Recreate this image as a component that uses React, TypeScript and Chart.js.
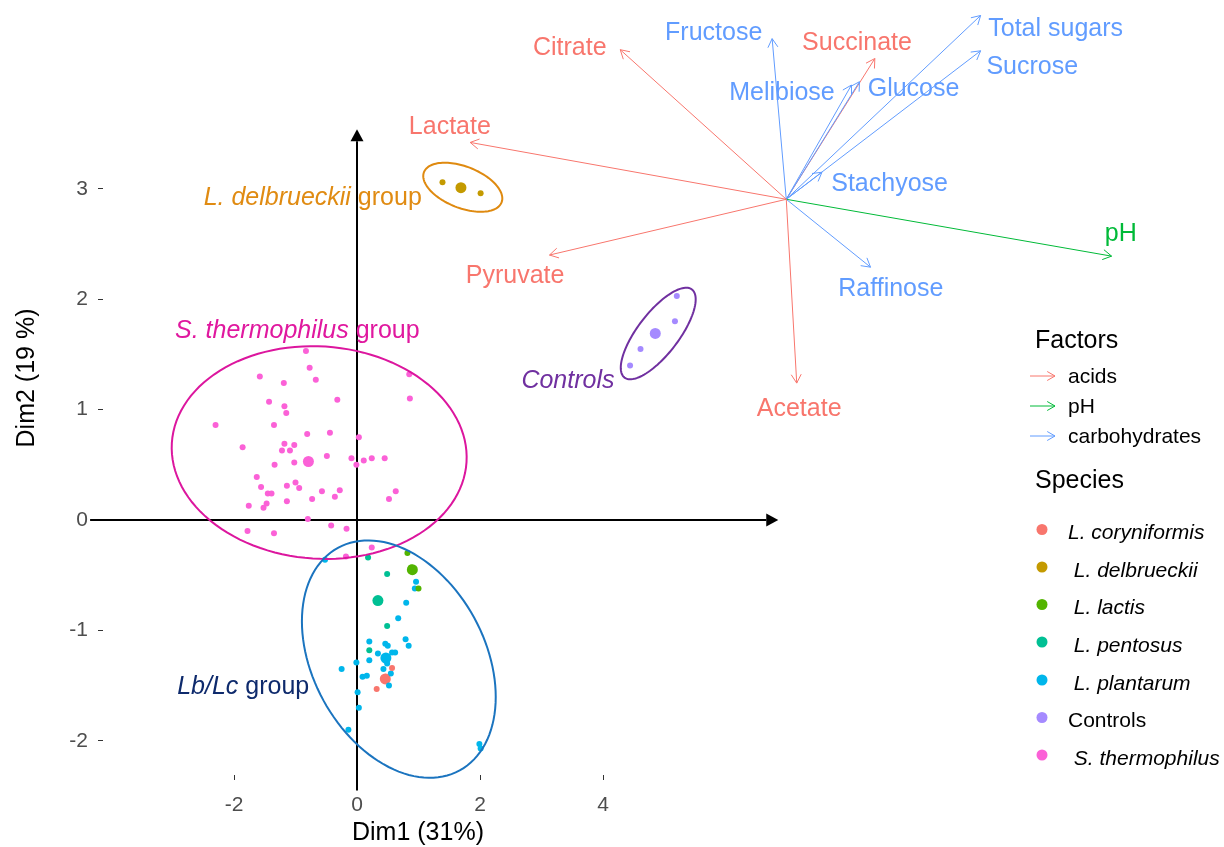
import React, { useEffect, useRef } from "react";
import { Chart, registerables } from "chart.js";

Chart.register(...registerables);

// ---------------- data ----------------
const xTicks = [-2, 0, 2, 4];
const yTicks = [-2, -1, 0, 1, 2, 3];

const speciesNames = [
  "L. coryniformis",
  "L. delbrueckii",
  "L. lactis",
  "L. pentosus",
  "L. plantarum",
  "Controls",
  "S. thermophilus",
];

const coryniformisPts = [[0.57, -1.34], [0.32, -1.53], [0.47, -1.42]];
const delbrueckiiPts = [[1.39, 3.06], [1.68, 3.01], [2.01, 2.96]];
const lactisPts = [[0.82, -0.30], [0.88, -0.43], [1.0, -0.62]];
const pentosusPts = [[0.18, -0.34], [0.49, -0.49], [0.49, -0.96], [0.2, -1.18]];
const plantarumPts = [
  [-0.52, -0.36], [0.96, -0.56], [0.94, -0.62], [0.8, -0.75], [0.67, -0.89],
  [0.79, -1.08], [0.84, -1.14], [0.2, -1.1], [0.46, -1.12], [0.5, -1.14],
  [0.34, -1.21], [0.57, -1.2], [0.62, -1.2], [0.49, -1.3], [0.2, -1.27],
  [-0.01, -1.29], [-0.25, -1.35], [0.43, -1.35], [0.55, -1.39], [0.09, -1.42],
  [0.16, -1.41], [0.52, -1.5], [0.01, -1.56], [0.03, -1.7], [-0.14, -1.9],
  [1.99, -2.03], [2.01, -2.07],
];
const controlsPts = [[5.2, 2.03], [5.17, 1.8], [4.61, 1.55], [4.44, 1.4]];
const thermophilusPts = [
  [-0.83, 1.53], [-0.77, 1.38], [-1.58, 1.3], [-1.19, 1.24], [-0.67, 1.27],
  [0.85, 1.32], [0.86, 1.1], [-1.43, 1.07], [-0.32, 1.09], [-1.18, 1.03],
  [-1.15, 0.97], [-2.3, 0.86], [-1.35, 0.86], [-0.81, 0.78], [-0.44, 0.79],
  [0.03, 0.75], [-1.86, 0.66], [-1.18, 0.69], [-1.02, 0.68], [-1.22, 0.63],
  [-1.09, 0.63], [-0.49, 0.58], [-0.09, 0.56], [0.11, 0.54], [0.24, 0.56],
  [0.45, 0.56], [-1.34, 0.5], [-1.02, 0.52], [-0.01, 0.5], [-1.63, 0.39],
  [-1.56, 0.3], [-1.14, 0.31], [-1.0, 0.34], [-0.94, 0.29], [-1.45, 0.24],
  [-1.39, 0.24], [-0.57, 0.26], [-0.28, 0.27], [-0.36, 0.21], [-0.73, 0.19],
  [0.63, 0.26], [0.52, 0.19], [-1.76, 0.13], [-1.47, 0.15], [-1.52, 0.11],
  [-1.14, 0.17], [-0.8, 0.01], [-0.42, -0.05], [-0.17, -0.08], [-1.78, -0.1],
  [-1.35, -0.12], [0.24, -0.25], [-0.18, -0.33],
];
const centroidPts = [
  [0.46, -1.44], [1.69, 3.01], [0.9, -0.45], [0.34, -0.73], [0.47, -1.25], [4.85, 1.69], [-0.79, 0.53],
];

const varNames = ["Citrate", "Fructose", "Succinate", "Melibiose", "Glucose", "Total sugars", "Sucrose", "Stachyose", "pH", "Raffinose", "Acetate", "Lactate", "Pyruvate"];
const varFactor = ["acids", "carbohydrates", "acids", "carbohydrates", "carbohydrates", "carbohydrates", "carbohydrates", "carbohydrates", "pH", "carbohydrates", "acids", "acids", "acids"];
const varEndX = [4.28, 6.75, 8.42, 8.04, 8.17, 10.14, 10.14, 7.56, 12.27, 8.35, 7.15, 1.84, 3.13];
const varEndY = [4.26, 4.36, 4.18, 3.94, 3.97, 4.57, 4.25, 3.15, 2.39, 2.29, 1.24, 3.42, 2.4];
const varLabelX = [3.46, 5.8, 8.13, 6.91, 9.05, 11.36, 10.98, 8.66, 12.42, 8.68, 7.19, 1.51, 2.57];
const varLabelY = [4.27, 4.41, 4.32, 3.87, 3.9, 4.45, 4.1, 3.04, 2.59, 2.09, 1.0, 3.56, 2.21];
const arrowOrigin = [6.98, 2.905];

const factorNames = ["acids", "pH", "carbohydrates"];

const ellipseCX = [1.72, -0.615, 0.68, 4.898];
const ellipseCY = [3.014, 0.611, -1.26, 1.689];
const ellipseUX = [0.631, 2.398, 0.99, 0.548];
const ellipseUY = [-0.137, -0.036, -1.008, 0.399];
const ellipseVX = [-0.122, -0.02, -1.226, 0.266];
const ellipseVY = [-0.175, 0.963, -0.374, -0.113];

const groupLabelItalic = ["L. delbrueckii", "S. thermophilus", "Lb/Lc", "Controls"];
const groupLabelRest = [" group", " group", " group", ""];
const groupLabelX = [-0.72, -0.97, -1.85, 3.43];
const groupLabelY = [2.92, 1.71, -1.51, 1.26];

const axisArrowX = [-4.34, 6.85];
const axisArrowY = [-2.45, 3.54];

// ---------------- styles ----------------
const FONT = "'Liberation Sans', Arial, Helvetica, sans-serif";
const speciesColors = ["#F8766D", "#C49A00", "#53B400", "#00C094", "#00B6EB", "#A58AFF", "#FB61D7"];
const factorColors: Record<string, string> = { acids: "#F8766D", pH: "#00BA38", carbohydrates: "#619CFF" };
const ellipseColors = ["#DF8A10", "#DC169E", "#1B74BF", "#7030A0"];
const groupLabelColors = ["#E08B12", "#E0189F", "#0E2A6C", "#7030A0"];

const X_MIN = (103 - 357) / 61.5;
const X_MAX = (1020 - 357) / 61.5;
const Y_MAX = (520 - 10) / 110.4;
const Y_MIN = (520 - 775) / 110.4;

function openHead(ctx: CanvasRenderingContext2D, x0: number, y0: number, x1: number, y1: number, len: number) {
  const a = Math.atan2(y1 - y0, x1 - x0);
  const ang = Math.PI / 6;
  ctx.beginPath();
  ctx.moveTo(x1 - len * Math.cos(a - ang), y1 - len * Math.sin(a - ang));
  ctx.lineTo(x1, y1);
  ctx.lineTo(x1 - len * Math.cos(a + ang), y1 - len * Math.sin(a + ang));
  ctx.stroke();
}

function closedArrow(ctx: CanvasRenderingContext2D, x0: number, y0: number, x1: number, y1: number, len: number, half: number) {
  const a = Math.atan2(y1 - y0, x1 - x0);
  const bx = x1 - len * Math.cos(a);
  const by = y1 - len * Math.sin(a);
  ctx.beginPath();
  ctx.moveTo(x0, y0);
  ctx.lineTo(bx, by);
  ctx.stroke();
  ctx.beginPath();
  ctx.moveTo(x1, y1);
  ctx.lineTo(bx + half * Math.sin(a), by - half * Math.cos(a));
  ctx.lineTo(bx - half * Math.sin(a), by + half * Math.cos(a));
  ctx.closePath();
  ctx.fill();
}

const biplotPlugin = {
  id: "biplot",
  beforeDatasetsDraw(chart: any) {
    const ctx: CanvasRenderingContext2D = chart.ctx;
    const xs = chart.scales.x;
    const ys = chart.scales.y;
    ctx.save();
    ctx.strokeStyle = "#000";
    ctx.fillStyle = "#000";
    ctx.lineWidth = 2;
    const y0 = ys.getPixelForValue(0);
    closedArrow(ctx, xs.getPixelForValue(axisArrowX[0]), y0, xs.getPixelForValue(axisArrowX[1]), y0, 12, 6.5);
    const x0 = xs.getPixelForValue(0);
    closedArrow(ctx, x0, ys.getPixelForValue(axisArrowY[0]), x0, ys.getPixelForValue(axisArrowY[1]), 12, 6.5);
    ctx.restore();
  },
  afterDatasetsDraw(chart: any) {
    const ctx: CanvasRenderingContext2D = chart.ctx;
    const xs = chart.scales.x;
    const ys = chart.scales.y;
    const px = (v: number) => xs.getPixelForValue(v);
    const py = (v: number) => ys.getPixelForValue(v);
    ctx.save();

    // ellipses
    ctx.lineWidth = 2;
    for (let e = 0; e < ellipseCX.length; e++) {
      ctx.strokeStyle = ellipseColors[e];
      ctx.beginPath();
      for (let i = 0; i <= 120; i++) {
        const t = (i / 120) * Math.PI * 2;
        const dx = ellipseCX[e] + ellipseUX[e] * Math.cos(t) + ellipseVX[e] * Math.sin(t);
        const dy = ellipseCY[e] + ellipseUY[e] * Math.cos(t) + ellipseVY[e] * Math.sin(t);
        if (i === 0) ctx.moveTo(px(dx), py(dy));
        else ctx.lineTo(px(dx), py(dy));
      }
      ctx.closePath();
      ctx.stroke();
    }

    // variable arrows
    ctx.lineWidth = 1;
    const ox = px(arrowOrigin[0]);
    const oy = py(arrowOrigin[1]);
    for (let i = 0; i < varNames.length; i++) {
      const c = factorColors[varFactor[i]];
      ctx.strokeStyle = c;
      const ex = px(varEndX[i]);
      const ey = py(varEndY[i]);
      ctx.beginPath();
      ctx.moveTo(ox, oy);
      ctx.lineTo(ex, ey);
      ctx.stroke();
      openHead(ctx, ox, oy, ex, ey, 10);
    }
    ctx.font = `25px ${FONT}`;
    ctx.textAlign = "center";
    ctx.textBaseline = "middle";
    for (let i = 0; i < varNames.length; i++) {
      ctx.fillStyle = factorColors[varFactor[i]];
      ctx.fillText(varNames[i], px(varLabelX[i]), py(varLabelY[i]));
    }

    // group labels
    ctx.textAlign = "left";
    for (let g = 0; g < groupLabelItalic.length; g++) {
      ctx.fillStyle = groupLabelColors[g];
      ctx.font = `italic 25px ${FONT}`;
      const w1 = ctx.measureText(groupLabelItalic[g]).width;
      ctx.font = `25px ${FONT}`;
      const w2 = ctx.measureText(groupLabelRest[g]).width;
      const start = px(groupLabelX[g]) - (w1 + w2) / 2;
      const yy = py(groupLabelY[g]);
      ctx.font = `italic 25px ${FONT}`;
      ctx.fillText(groupLabelItalic[g], start, yy);
      ctx.font = `25px ${FONT}`;
      ctx.fillText(groupLabelRest[g], start + w1, yy);
    }

    // axis titles
    ctx.fillStyle = "#000";
    ctx.font = `25px ${FONT}`;
    ctx.textAlign = "center";
    ctx.fillText("Dim1 (31%)", 418, 833);
    ctx.save();
    ctx.translate(27, 378);
    ctx.rotate(-Math.PI / 2);
    ctx.fillText("Dim2 (19 %)", 0, 0);
    ctx.restore();

    // legend: Factors
    ctx.textAlign = "left";
    ctx.fillStyle = "#000";
    ctx.font = `25px ${FONT}`;
    ctx.fillText("Factors", 1035, 341);
    const fy = [376, 406, 436];
    ctx.lineWidth = 1;
    for (let i = 0; i < factorNames.length; i++) {
      ctx.strokeStyle = factorColors[factorNames[i]];
      ctx.beginPath();
      ctx.moveTo(1030, fy[i]);
      ctx.lineTo(1055, fy[i]);
      ctx.stroke();
      openHead(ctx, 1030, fy[i], 1055, fy[i], 9);
      ctx.fillStyle = "#000";
      ctx.font = `21px ${FONT}`;
      ctx.fillText(factorNames[i], 1068, fy[i] + 1);
    }

    // legend: Species
    ctx.font = `25px ${FONT}`;
    ctx.fillText("Species", 1035, 481);
    const sy = [529.5, 567, 604.5, 642, 680, 717.5, 755];
    for (let i = 0; i < speciesNames.length; i++) {
      ctx.fillStyle = speciesColors[i];
      ctx.beginPath();
      ctx.arc(1042, sy[i], 5.5, 0, Math.PI * 2);
      ctx.fill();
      ctx.fillStyle = "#000";
      const isCtrl = speciesNames[i] === "Controls";
      ctx.font = `${isCtrl ? "" : "italic "}21px ${FONT}`;
      const label = i === 0 || isCtrl ? speciesNames[i] : " " + speciesNames[i];
      ctx.fillText(label, 1068, sy[i] + 4);
    }
    ctx.restore();
  },
};

const toData = (pts: number[][]) => pts.map((p) => ({ x: p[0], y: p[1] }));

export default function App() {
  const ref = useRef<HTMLCanvasElement | null>(null);
  useEffect(() => {
    if (!ref.current) return;
    const groups = [coryniformisPts, delbrueckiiPts, lactisPts, pentosusPts, plantarumPts, controlsPts, thermophilusPts];
    const datasets: any[] = groups.map((g, i) => ({
      label: speciesNames[i],
      data: toData(g),
      backgroundColor: speciesColors[i],
      borderWidth: 0,
      pointRadius: 3,
    }));
    datasets.push({
      label: "centroids",
      data: toData(centroidPts),
      backgroundColor: speciesColors,
      borderWidth: 0,
      pointRadius: 5.5,
    });
    const tickFont = { family: FONT, size: 21 };
    const chart = new Chart(ref.current, {
      type: "scatter",
      data: { datasets },
      options: {
        animation: false,
        responsive: false,
        devicePixelRatio: 1,
        layout: { padding: { top: 10, right: 204, left: 0, bottom: 0 } },
        plugins: { legend: { display: false }, tooltip: { enabled: false } },
        scales: {
          x: {
            type: "linear",
            bounds: "data",
            min: X_MIN,
            max: X_MAX,
            afterBuildTicks: (s: any) => {
              s.ticks = xTicks.map((v) => ({ value: v }));
            },
            afterFit: (s: any) => {
              s.height = 72;
              s.paddingLeft = 0;
              s.paddingRight = 0;
            },
            grid: { drawOnChartArea: false, drawTicks: true, tickLength: 5, color: "#333333", lineWidth: 1 },
            border: { display: false },
            ticks: { font: tickFont, color: "#4D4D4D", padding: 13, autoSkip: false, maxRotation: 0 },
          },
          y: {
            type: "linear",
            bounds: "data",
            min: Y_MIN,
            max: Y_MAX,
            afterBuildTicks: (s: any) => {
              s.ticks = yTicks.map((v) => ({ value: v }));
            },
            afterFit: (s: any) => {
              s.width = 103;
              s.paddingTop = 0;
              s.paddingBottom = 0;
            },
            grid: { drawOnChartArea: false, drawTicks: true, tickLength: 5, color: "#333333", lineWidth: 1 },
            border: { display: false },
            ticks: { font: tickFont, color: "#4D4D4D", padding: 10, autoSkip: false },
          },
        },
      } as any,
      plugins: [biplotPlugin],
    });
    return () => chart.destroy();
  }, []);
  return (
    <div style={{ position: "absolute", left: 0, top: 0, width: 1224, height: 847, background: "#fff" }}>
      <canvas ref={ref} width={1224} height={847} style={{ display: "block" }} />
    </div>
  );
}
